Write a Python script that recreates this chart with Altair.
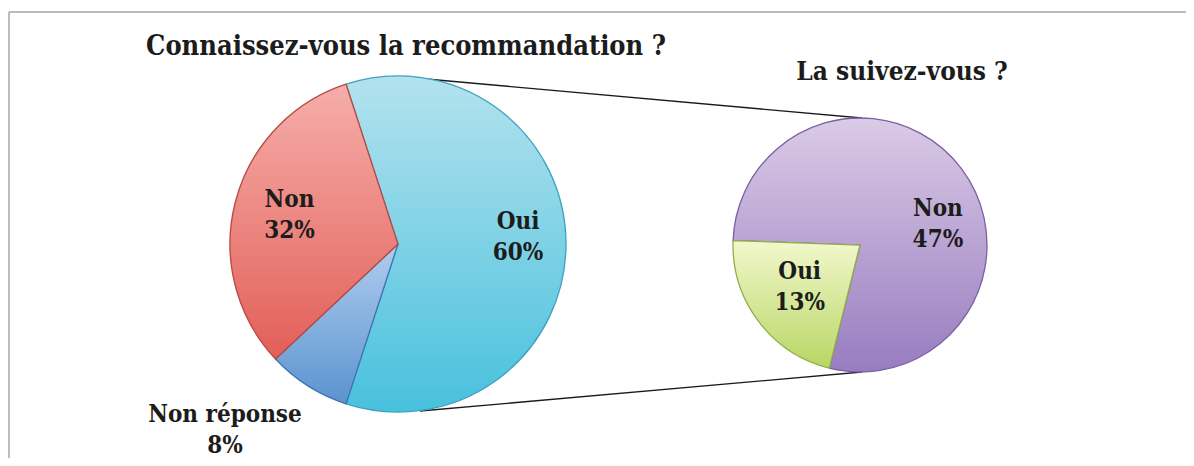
import math
import altair as alt
import numpy as np
import pandas as pd

# ---- data ----
left_categories = ["Oui", "Non réponse", "Non"]
left_values = [60, 8, 32]
right_categories = ["Non", "Oui"]
right_values = [47, 13]
title_left = "Connaissez-vous la recommandation ?"
title_right = "La suivez-vous ?"


def table(cats, vals):
    v = np.array(vals, dtype=float)
    end = np.cumsum(v)
    start = end - v
    return pd.DataFrame({
        "cat": cats,
        "value": v,
        "start": start,
        "end": end,
        "mid": (start + end) / 2,
        "label": [f"{c}\n{int(x)}%" for c, x in zip(cats, vals)],
    })


left_df = table(left_categories, left_values)
right_df = table(right_categories, right_values)

FONT = "DejaVu Serif Condensed, DejaVu Serif"
TXT = "#1c1c1c"
LABEL_SIZE = 24
TITLE_SIZE = 27

# layout
LCX, LCY, LR = 390, 236, 168
RCX, RCY, RR = 852, 237, 127
L_START = 2 * math.pi - math.radians(18)
R_START = math.radians(272)
L_DOMAIN = [0, sum(left_values)]
R_DOMAIN = [0, sum(right_values)]


def grad(top, bottom):
    return alt.Gradient(
        gradient="linear",
        stops=[alt.GradientStop(color=top, offset=0), alt.GradientStop(color=bottom, offset=1)],
        x1=0, x2=0, y1=0, y2=1,
    )


def slice_layer(df, cat, domain, start, cx, cy, r, top, bottom, stroke):
    return alt.Chart(df).transform_filter(alt.datum.cat == cat).mark_arc(
        fill=grad(top, bottom), stroke=stroke, strokeWidth=1.3, radius=r
    ).encode(
        theta=alt.Theta("start:Q", scale=alt.Scale(domain=domain, range=[start, start + 2 * math.pi])),
        theta2="end:Q",
        x=alt.value(cx),
        y=alt.value(cy),
    )


def label_layer(df, cat, domain, start, cx, cy, r, dx=0, dy=0):
    return alt.Chart(df).transform_filter(alt.datum.cat == cat).mark_text(
        font=FONT, fontWeight="bold", fontSize=LABEL_SIZE, color=TXT, lineBreak="\n",
        lineHeight=31, radius=r, dx=dx, dy=dy, align="center", baseline="middle",
    ).encode(
        theta=alt.Theta("mid:Q", scale=alt.Scale(domain=domain, range=[start, start + 2 * math.pi])),
        text="label:N",
        x=alt.value(cx),
        y=alt.value(cy),
    )


dummy = pd.DataFrame({"k": [0]})

frame_top = alt.Chart(dummy).mark_rule(color="#a6a6a6", strokeWidth=1.5).encode(
    x=alt.value(1), x2=alt.value(1180), y=alt.value(4))
frame_left = alt.Chart(dummy).mark_rule(color="#a6a6a6", strokeWidth=1.5).encode(
    x=alt.value(1), y=alt.value(4), y2=alt.value(452))

conn_top = alt.Chart(dummy).mark_rule(color="#1a1a1a", strokeWidth=1.3).encode(
    x=alt.value(396), y=alt.value(69), x2=alt.value(854), y2=alt.value(110))
conn_bot = alt.Chart(dummy).mark_rule(color="#1a1a1a", strokeWidth=1.3).encode(
    x=alt.value(412), y=alt.value(403), x2=alt.value(854), y2=alt.value(364))

layers = [frame_top, frame_left, conn_top, conn_bot]

left_styles = {
    "Oui": ("#b4e2ee", "#48c1dd", "#3aa3c0"),
    "Non réponse": ("#b0cdee", "#5b93d0", "#3f74b0"),
    "Non": ("#f6aeaa", "#e25f58", "#b84842"),
}
right_styles = {
    "Non": ("#dacbe6", "#987cc0", "#7a60a4"),
    "Oui": ("#f2f8cc", "#b8d665", "#92ae48"),
}

for c in left_categories:
    t, b, s = left_styles[c]
    layers.append(slice_layer(left_df, c, L_DOMAIN, L_START, LCX, LCY, LR, t, b, s))
for c in right_categories:
    t, b, s = right_styles[c]
    layers.append(slice_layer(right_df, c, R_DOMAIN, R_START, RCX, RCY, RR, t, b, s))

layers.append(label_layer(left_df, "Oui", L_DOMAIN, L_START, LCX, LCY, 120, dy=-22))
layers.append(label_layer(left_df, "Non", L_DOMAIN, L_START, LCX, LCY, 112, dy=-16))
layers.append(label_layer(left_df, "Non réponse", L_DOMAIN, L_START, LCX, LCY, 252, dx=-38, dy=-42))
layers.append(label_layer(right_df, "Non", R_DOMAIN, R_START, RCX, RCY, 80, dx=14, dy=12))
layers.append(label_layer(right_df, "Oui", R_DOMAIN, R_START, RCX, RCY, 73, dx=-2, dy=-17))

layers.append(alt.Chart(dummy).mark_text(
    text=title_left, font=FONT, fontWeight="bold", fontSize=TITLE_SIZE, color=TXT, align="center", baseline="middle"
).encode(x=alt.value(398), y=alt.value(39)))
layers.append(alt.Chart(dummy).mark_text(
    text=title_right, font=FONT, fontWeight="bold", fontSize=TITLE_SIZE - 1, color=TXT, align="center", baseline="middle"
).encode(x=alt.value(894), y=alt.value(64)))

chart = alt.layer(*layers).resolve_scale(theta="independent").properties(
    width=1178, height=450, padding=0, autosize=alt.AutoSizeParams(type="none"),
    background="white",
).configure_view(stroke=None)

chart.save("out.html", embed_options={"renderer": "svg", "actions": False})
